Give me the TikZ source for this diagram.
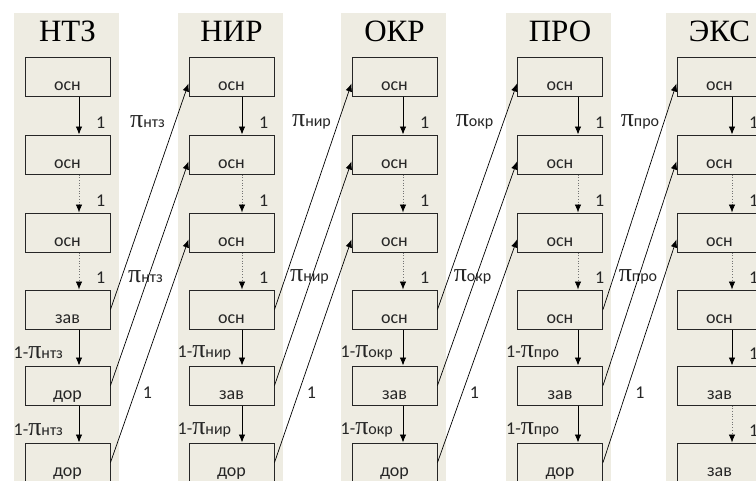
\documentclass[tikz,border=0pt]{standalone}
\usepackage{fontspec}
\setmainfont{Carlito}
\newfontfamily\serifff{Liberation Serif}
\usetikzlibrary{arrows.meta,calc}
\definecolor{panelc}{HTML}{EEECE2}
\newcommand\piL[1]{{\fontsize{26}{26}\selectfont\serifff π}{\fontsize{16}{16}\selectfont #1}}
\begin{document}
\begin{tikzpicture}[x=1pt,y=-1pt,
 box/.style={draw=black!85, line width=1pt, fill=panelc, minimum width=85pt, inner xsep=0pt, inner ysep=0pt, text height=33pt, text depth=6pt, font=\fontsize{18}{18}\selectfont, text=black!85},
 hdr/.style={font=\serifff\fontsize{31}{31}\selectfont, inner sep=0pt},
 lab/.style={font=\fontsize{18}{18}\selectfont, inner sep=0pt, text=black!85},
 vsol/.style={draw=black, line width=0.8pt, -{Latex[length=8pt,width=6.5pt]}},
 vdot/.style={draw=black!55, line width=0.7pt, dotted, -{Latex[length=8pt,width=6.5pt,color=black]}},
 cross/.style={draw=black, line width=0.7pt, -{Latex[length=8pt,width=6.5pt]}}]
\useasboundingbox (0,0) rectangle (756,480);
\fill[white] (0,0) rectangle (756,480);
\foreach \c/\x/\dx/\hd/\sub/\lst/\sty in {
 1/67.5/11.5/НТЗ/нтз/{осн,осн,осн,зав,дор,дор}/{vsol,vdot,vdot,vsol,vsol},
 2/231.5/10.5/НИР/нир/{осн,осн,осн,осн,зав,дор}/{vsol,vdot,vdot,vsol,vsol},
 3/394.5/8.5/ОКР/окр/{осн,осн,осн,осн,зав,дор}/{vsol,vdot,vdot,vsol,vsol},
 4/560/18/ПРО/про/{осн,осн,осн,осн,зав,дор}/{vsol,vdot,vdot,vsol,vsol},
 5/719.5/12.5/ЭКС/экс/{осн,осн,осн,осн,зав,зав}/{vsol,vdot,vdot,vsol,vdot}} {
  \fill[panelc] (\x-54,13) rectangle (\x+51,490);
  \node[hdr] (t\c) at (\x,31) {\hd};
  \foreach \txt [count=\r] in \lst {
    \pgfmathsetmacro\yy{{76.5,154.5,232.5,309.5,385.5,462.5}[\r-1]}
    \node[box] (b\c\r) at (\x,\yy) {\txt};
  }
  \foreach \s [count=\r] in \sty {
    \pgfmathtruncatemacro\rn{\r+1}
    \draw[\s] ($(b\c\r.south)+(\dx,0)$) -- ($(b\c\rn.north)+(\dx,0)$);
  }
  \foreach \r in {1,2,3} {
    \pgfmathtruncatemacro\rn{\r+1}
    \node[lab, anchor=west] (r\c\r) at ($(b\c\rn.north)+(\dx+17,-12)$) {1};
  }
  \ifnum\c<5
    \foreach \r in {4,5} {
      \pgfmathtruncatemacro\rn{\r+1}
      \node[lab, anchor=west] (l\c\r) at ($(b\c\rn.north west)+(-11,-13)$) {1-\piL{\sub}};
    }
    \node[lab] (pa\c) at (\x+80,122) {\piL{\sub}};
    \node[lab] (pb\c) at (\x+78,277) {\piL{\sub}};
    \node[lab] (pc\c) at (\x+80,393) {1};
  \else
    \foreach \r in {4,5} {
      \pgfmathtruncatemacro\rn{\r+1}
      \node[lab, anchor=west] (r\c\r) at ($(b\c\rn.north)+(\dx+17,-12)$) {1};
    }
  \fi
}
\foreach \c in {1,2,3,4} {
  \pgfmathtruncatemacro\n{\c+1}
  \draw[cross] (b\c4.east) -- ($(b\n1.west)+(0,7)$);
  \draw[cross] (b\c5.east) -- ($(b\n2.west)+(0,7)$);
  \draw[cross] (b\c6.east) -- ($(b\n3.west)+(0,7)$);
}
\end{tikzpicture}
\end{document}
